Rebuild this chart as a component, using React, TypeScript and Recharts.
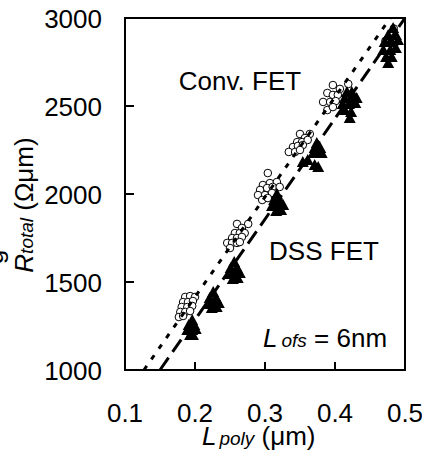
import React from "react";
import { ScatterChart, Scatter, XAxis, YAxis, ReferenceArea } from "recharts";

const xTicks = [0.1, 0.2, 0.3, 0.4, 0.5];
const yTicks = [1000, 1500, 2000, 2500, 3000];

// Conv. FET (open circles): [Lpoly, Rtotal]
const convPoints: [number, number][] = [
  [0.186, 1415], [0.193, 1420], [0.2, 1415], [0.183, 1386], [0.19, 1386], [0.197, 1392], [0.181, 1358],
  [0.189, 1358], [0.196, 1364], [0.179, 1330], [0.186, 1330], [0.193, 1335], [0.177, 1301], [0.183, 1307],
  [0.26, 1830], [0.276, 1830], [0.267, 1807], [0.257, 1778], [0.264, 1778], [0.271, 1778], [0.253, 1750],
  [0.26, 1750], [0.267, 1756], [0.246, 1722], [0.253, 1722], [0.26, 1722], [0.264, 1727], [0.25, 1693],
  [0.304, 2119], [0.297, 2051], [0.307, 2062], [0.317, 2068], [0.293, 2023], [0.303, 2034], [0.311, 2040],
  [0.321, 2040], [0.29, 1994], [0.3, 1994], [0.31, 2006], [0.296, 1966], [0.304, 1977],
  [0.35, 2341], [0.364, 2341], [0.357, 2318], [0.346, 2295], [0.353, 2295], [0.361, 2307], [0.34, 2267],
  [0.347, 2273], [0.354, 2278], [0.334, 2239], [0.343, 2239], [0.35, 2250],
  [0.397, 2619], [0.419, 2625], [0.407, 2597], [0.389, 2574], [0.397, 2563], [0.404, 2563], [0.383, 2523],
  [0.393, 2523], [0.401, 2528], [0.389, 2477], [0.397, 2494],
  [0.472, 2870], [0.48, 2900], [0.486, 2860], [0.476, 2830], [0.484, 2940],
];

// DSS FET (filled triangles): [Lpoly, Rtotal]
const dssPoints: [number, number][] = [
  [0.196, 1284], [0.191, 1256], [0.199, 1256], [0.189, 1227], [0.196, 1227], [0.201, 1233], [0.193, 1199], [0.197, 1199],
  [0.226, 1443], [0.221, 1409], [0.23, 1409], [0.219, 1375], [0.227, 1375], [0.234, 1380], [0.224, 1352], [0.231, 1358],
  [0.256, 1614], [0.251, 1580], [0.26, 1580], [0.249, 1545], [0.257, 1545], [0.264, 1551], [0.254, 1517], [0.261, 1523],
  [0.317, 2000], [0.313, 1966], [0.321, 1966], [0.31, 1932], [0.319, 1932], [0.326, 1937], [0.316, 1903], [0.323, 1909],
  [0.374, 2290], [0.371, 2261], [0.379, 2261], [0.369, 2233], [0.376, 2233], [0.381, 2233], [0.354, 2182], [0.361, 2193],
  [0.371, 2165], [0.376, 2153],
  [0.417, 2580], [0.424, 2580], [0.414, 2545], [0.423, 2545], [0.431, 2545], [0.411, 2511], [0.42, 2511], [0.429, 2517],
  [0.414, 2477], [0.423, 2466], [0.421, 2432],
  [0.483, 2943], [0.476, 2903], [0.487, 2903], [0.471, 2864], [0.481, 2864], [0.49, 2875], [0.469, 2818], [0.479, 2818],
  [0.487, 2830], [0.473, 2778], [0.481, 2778], [0.476, 2744],
];

// Linear fits
const convFit: [number, number][] = [[0.127, 1000], [0.479, 3000]];
const dssFit: [number, number][] = [[0.15, 1000], [0.5, 3000]];

const toXY = (arr: [number, number][]) => arr.map(([x, y]) => ({ x, y }));

const FONT = "Liberation Sans, Arial, sans-serif";

const Circle = (p: any) => (
  <circle cx={p.cx} cy={p.cy} r={3.8} fill="#fff" stroke="#000" strokeWidth={1} />
);
const Tri = (p: any) => (
  <polygon
    points={`${p.cx},${p.cy - 6} ${p.cx - 6},${p.cy + 5} ${p.cx + 6},${p.cy + 5}`}
    fill="#000"
  />
);
const NoShape = () => <g />;

// With tickSize = -9, tick text anchor sits 9px inside the plot
const YTick = (p: any) => {
  const { x, y, payload } = p;
  return (
    <text x={x - 32} y={y} dy={9.5} textAnchor="end" fontSize={26} fontFamily={FONT} fill="#000">
      {payload.value}
    </text>
  );
};

const XTick = (p: any) => {
  const { x, y, payload } = p;
  return (
    <text x={x} y={y + 60} textAnchor="middle" fontSize={26} fontFamily={FONT} fill="#000">
      {payload.value.toFixed(1)}
    </text>
  );
};

export default function App() {
  return (
    <div style={{ position: "absolute", left: 0, top: 0, width: 422, height: 459, background: "#fff" }}>
      <ScatterChart width={422} height={459} margin={{ top: 18, right: 17, bottom: 0, left: 0 }}>
        <XAxis
          type="number"
          dataKey="x"
          domain={[0.1, 0.5]}
          ticks={xTicks}
          height={89}
          axisLine={false}
          tickLine={{ stroke: "#000", strokeWidth: 2 }}
          tickSize={-8}
          tickMargin={0}
          tick={<XTick />}
          interval={0}
        />
        <YAxis
          type="number"
          dataKey="y"
          domain={[1000, 3000]}
          ticks={yTicks}
          width={125}
          axisLine={false}
          tickLine={{ stroke: "#000", strokeWidth: 2 }}
          tickSize={-9}
          tickMargin={0}
          tick={<YTick />}
          interval={0}
        />
        <ReferenceArea x1={0.1} x2={0.5} y1={1000} y2={3000} fill="none" stroke="#000" strokeWidth={2} />
        <Scatter data={toXY(convPoints)} shape={<Circle />} isAnimationActive={false} />
        <Scatter data={toXY(dssPoints)} shape={<Tri />} isAnimationActive={false} />
        <Scatter
          data={toXY(convFit)}
          line={{ stroke: "#000", strokeWidth: 3, strokeDasharray: "5 8" }}
          lineType="joint"
          shape={<NoShape />}
          isAnimationActive={false}
        />
        <Scatter
          data={toXY(dssFit)}
          line={{ stroke: "#000", strokeWidth: 3, strokeDasharray: "15 7" }}
          lineType="joint"
          shape={<NoShape />}
          isAnimationActive={false}
        />
        <text x={240} y={90} textAnchor="middle" fontSize={26} fontFamily={FONT} fill="#000">
          Conv. FET
        </text>
        <text x={324} y={260} textAnchor="middle" fontSize={26} fontFamily={FONT} fill="#000">
          DSS FET
        </text>
        <text x={263} y={347} fontSize={26} fontFamily={FONT} fill="#000">
          <tspan fontStyle="italic">L</tspan>
          <tspan fontStyle="italic" fontSize={19} dx={4}>ofs</tspan>
          <tspan> = 6nm</tspan>
        </text>
        <text x={202} y={445} fontSize={26} fontFamily={FONT} fill="#000">
          <tspan fontStyle="italic">L</tspan>
          <tspan fontStyle="italic" fontSize={19} dx={3}>poly</tspan>
          <tspan> (μm)</tspan>
        </text>
        <text x={33} y={205} transform="rotate(-90 33 205)" textAnchor="middle" fontSize={26} fontFamily={FONT} fill="#000">
          <tspan fontStyle="italic">R</tspan>
          <tspan fontStyle="italic" fontSize={19}>total</tspan>
          <tspan> (Ωμm)</tspan>
        </text>
        <text x={3} y={257} transform="rotate(-90 3 257)" textAnchor="middle" fontSize={26} fontFamily={FONT} fill="#000">
          g
        </text>
      </ScatterChart>
    </div>
  );
}
